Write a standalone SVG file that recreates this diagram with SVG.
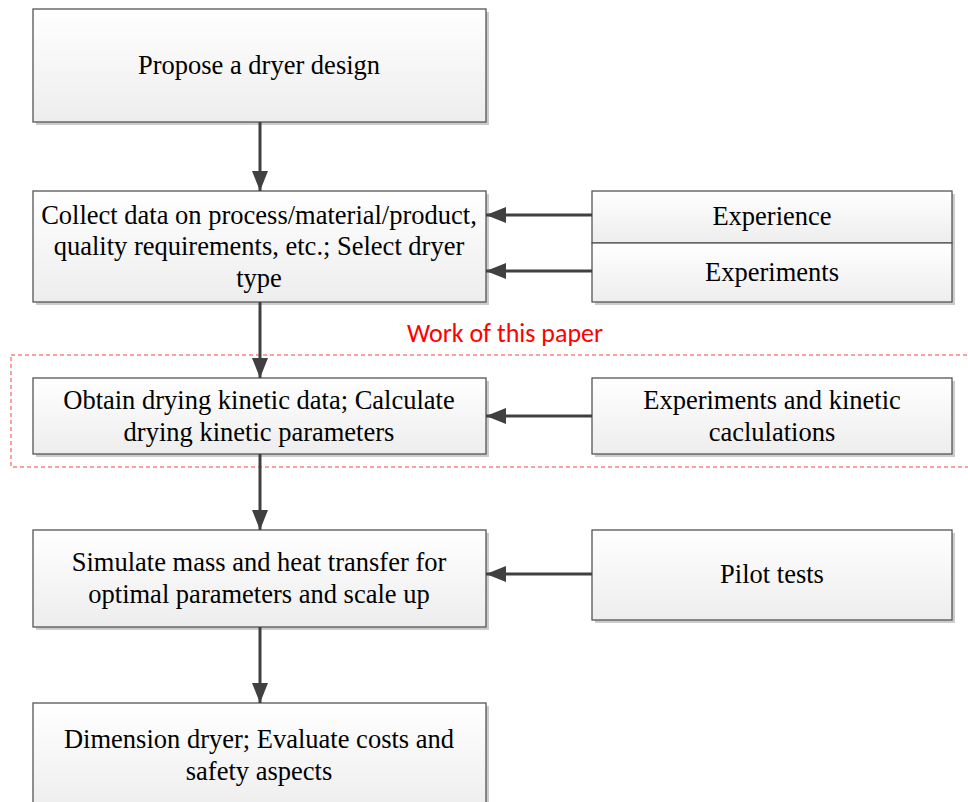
<svg xmlns="http://www.w3.org/2000/svg" width="968" height="802" viewBox="0 0 968 802">
<defs>
<linearGradient id="g" x1="0" y1="0" x2="0" y2="1">
<stop offset="0" stop-color="#ffffff"/>
<stop offset="1" stop-color="#ededed"/>
</linearGradient>
<marker id="ah2" viewBox="0 0 20 16" refX="20" refY="8" markerWidth="20" markerHeight="16" markerUnits="userSpaceOnUse" orient="auto">
<path d="M0,0 L20,8 L0,16 Z" fill="#404040"/>
</marker>
</defs>
<style>
.box{fill:url(#g);stroke:#555555;stroke-width:1.3}
.sh{fill:#cccccc}
.t{font-family:"Liberation Serif","Times New Roman",serif;font-size:26.5px;fill:#000;text-anchor:middle}
.c{stroke:#404040;stroke-width:3;fill:none;marker-end:url(#ah2)}
</style>
<rect x="11" y="355" width="962" height="112" fill="none" stroke="#ff4040" stroke-width="1" stroke-dasharray="4,3"/>
<text x="505" y="342" font-family="Carlito,'Liberation Sans',sans-serif" font-size="26" fill="#ff0000" text-anchor="middle">Work of this paper</text>
<g id="n1"><rect class="sh" x="36" y="12" width="453" height="113"/><rect class="box" x="33" y="9" width="453" height="113"/><text class="t" x="259" y="74">Propose a dryer design</text></g>
<g id="n2"><rect class="sh" x="36" y="194" width="453" height="111"/><rect class="box" x="33" y="191" width="453" height="111"/><text class="t" x="259" y="224">Collect data on process/material/product,</text><text class="t" x="259" y="255">quality requirements, etc.; Select dryer</text><text class="t" x="259" y="287">type</text></g>
<g id="n3"><rect class="sh" x="595" y="194" width="360" height="111"/><rect class="box" x="592" y="191" width="360" height="52"/><text class="t" x="772" y="225">Experience</text></g>
<g id="n4"><rect class="box" x="592" y="243" width="360" height="59"/><text class="t" x="772" y="281">Experiments</text></g>
<g id="n5"><rect class="sh" x="36" y="381" width="453" height="76"/><rect class="box" x="33" y="378" width="453" height="76"/><text class="t" x="259" y="409">Obtain drying kinetic data; Calculate</text><text class="t" x="259" y="441">drying kinetic parameters</text></g>
<g id="n6"><rect class="sh" x="595" y="381" width="360" height="76"/><rect class="box" x="592" y="378" width="360" height="76"/><text class="t" x="772" y="409">Experiments and kinetic</text><text class="t" x="772" y="441">caclulations</text></g>
<g id="n7"><rect class="sh" x="36" y="533" width="453" height="97"/><rect class="box" x="33" y="530" width="453" height="97"/><text class="t" x="259" y="571">Simulate mass and heat transfer for</text><text class="t" x="259" y="603">optimal parameters and scale up</text></g>
<g id="n8"><rect class="sh" x="595" y="533" width="360" height="90"/><rect class="box" x="592" y="530" width="360" height="90"/><text class="t" x="772" y="583">Pilot tests</text></g>
<g id="n9"><rect class="sh" x="36" y="706" width="453" height="110"/><rect class="box" x="33" y="703" width="453" height="110"/><text class="t" x="259" y="748">Dimension dryer; Evaluate costs and</text><text class="t" x="259" y="780">safety aspects</text></g>
<g id="connectors">
<line class="c" x1="260" y1="122" x2="260" y2="191"/>
<line class="c" x1="260" y1="302" x2="260" y2="378"/>
<line class="c" x1="260" y1="454" x2="260" y2="530"/>
<line class="c" x1="260" y1="627" x2="260" y2="703"/>
<line class="c" x1="592" y1="215" x2="486" y2="215"/>
<line class="c" x1="592" y1="271" x2="486" y2="271"/>
<line class="c" x1="592" y1="416" x2="486" y2="416"/>
<line class="c" x1="592" y1="574" x2="486" y2="574"/>
</g>
</svg>
